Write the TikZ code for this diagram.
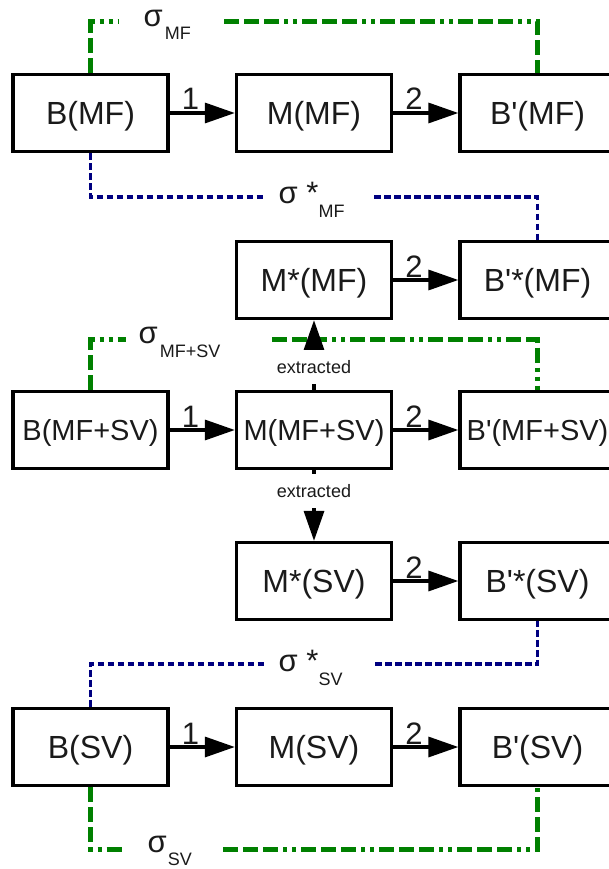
\documentclass[tikz,border=0pt]{standalone}
\usepackage{fontspec}
\setmainfont{Liberation Sans}[Ligatures=TeXOff]
\usetikzlibrary{arrows.meta}
\definecolor{gline}{HTML}{008000}
\definecolor{bline}{HTML}{000080}
\definecolor{txt}{HTML}{1A1A1A}
\newcommand\mysub[2]{\raisebox{-#1pt}{\fontsize{18}{18}\selectfont #2}}
\begin{document}
\begin{tikzpicture}[x=1pt,y=-1pt,
  box/.style={draw=black, line width=3.3pt, minimum width=155pt, minimum height=77pt,
    inner sep=0pt, text=txt, font=\fontsize{32}{32}\selectfont, text height=23pt, text depth=0pt},
  widebox/.style={box, font=\fontsize{29}{29}\selectfont, text height=21pt},
  flow/.style={line width=3.3pt, -{Triangle[length=30pt,width=20pt]}},
  numlbl/.style={pos=0.32, anchor=base, yshift=3pt, inner sep=0pt, text=txt,
    font=\fontsize{31}{31}\selectfont},
  extlbl/.style={fill=white, inner xsep=2pt, inner ysep=0pt, minimum height=34pt,
    text height=13pt, text depth=0pt, text=txt, font=\fontsize{18}{18}\selectfont},
  sig/.style={anchor=base west, inner sep=0pt, text=txt, font=\fontsize{31}{31}\selectfont},
  gdash/.style={draw=gline, line width=5pt,
    dash pattern=on 15pt off 5pt on 15pt off 5pt on 15pt off 5pt on 4pt off 5pt on 4pt off 5pt},
  bdash/.style={draw=bline, line width=3.3pt, dash pattern=on 6.5pt off 3.5pt}
]
\useasboundingbox (0,0) rectangle (609,869);

% boxes
\node[box] (bmf)    at (90.5,113) {B(MF)};
\node[box] (mmf)    at (314,113)  {M(MF)};
\node[box] (bpmf)   at (537.5,113) {B'(MF)};
\node[box] (msmf)   at (314,280)  {M*(MF)};
\node[box] (bpsmf)  at (537.5,280) {B'*(MF)};
\node[widebox] (bmfsv)  at (90.5,430) {B(MF+SV)};
\node[widebox] (mmfsv)  at (314,430)  {M(MF+SV)};
\node[widebox] (bpmfsv) at (537.5,430) {B'(MF+SV)};
\node[box] (mssv)   at (314,581)  {M*(SV)};
\node[box] (bpssv)  at (537.5,581) {B'*(SV)};
\node[box] (bsv)    at (90.5,747) {B(SV)};
\node[box] (msv)    at (314,747)  {M(SV)};
\node[box] (bpsv)   at (537.5,747) {B'(SV)};

% gap end points of the sigma connectors
\coordinate (gmf1) at (119,22);   \coordinate (gmf2) at (224,22);
\coordinate (bmf1) at (264,197);  \coordinate (bmf2) at (374,197);
\coordinate (gms1) at (126,339);  \coordinate (gms2) at (272,339);
\coordinate (bsv1) at (264,664);  \coordinate (bsv2) at (375,664);
\coordinate (gsv1) at (124,849);  \coordinate (gsv2) at (223,849);

% sigma connectors
\draw[gdash] (bmf.north) |- (gmf1);
\draw[gdash] (gmf2) -| (bpmf.north);
\draw[bdash] (bmf.south) |- (bmf1);
\draw[bdash] (bmf2) -| (bpsmf.north);
\draw[gdash] (bmfsv.north) |- (gms1);
\draw[gdash] (gms2) -| (bpmfsv.north);
\draw[bdash] (bsv.north) |- (bsv1);
\draw[bdash] (bsv2) -| (bpssv.south);
\draw[gdash] (bsv.south) |- (gsv1);
\draw[gdash] (gsv2) -| (bpsv.south);

% sigma labels
\node[sig] (lmf)   at (143.5,27)  {σ\hspace{2pt}\mysub{13}{MF}};
\node[sig] (lsmf)  at (278.5,203) {σ *\mysub{14}{MF}};
\node[sig] (lmfsv) at (138.5,343) {σ\hspace{2pt}\mysub{14}{MF+SV}};
\node[sig] (lssv)  at (278.5,671) {σ *\mysub{14}{SV}};
\node[sig] (lsv)   at (147.5,852) {σ\hspace{1pt}\mysub{13}{SV}};

% flow arrows
\draw[flow] (bmf.east) -- node[numlbl] {1} (mmf.west);
\draw[flow] (mmf.east) -- node[numlbl] {2} (bpmf.west);
\draw[flow] (msmf.east) -- node[numlbl] {2} (bpsmf.west);
\draw[flow] (bmfsv.east) -- node[numlbl] {1} (mmfsv.west);
\draw[flow] (mmfsv.east) -- node[numlbl] {2} (bpmfsv.west);
\draw[flow] (mssv.east) -- node[numlbl] {2} (bpssv.west);
\draw[flow] (bsv.east) -- node[numlbl] {1} (msv.west);
\draw[flow] (msv.east) -- node[numlbl] {2} (bpsv.west);

% extracted arrows
\draw[flow] (mmfsv.north) -- node[extlbl, pos=0.33] {extracted} (msmf.south);
\draw[flow] (mmfsv.south) -- node[extlbl, pos=0.29] {extracted} (mssv.north);
\end{tikzpicture}
\end{document}
